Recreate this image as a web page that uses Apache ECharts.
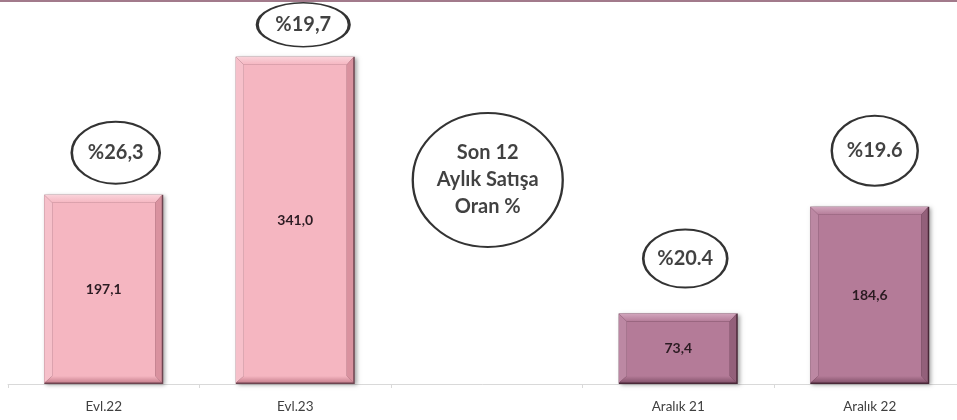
<!DOCTYPE html>
<html>
<head>
<meta charset="utf-8">
<script src="https://cdn.jsdelivr.net/npm/echarts@6/dist/echarts.min.js"></script>
<style>
html,body{margin:0;padding:0;background:#fff;}
#c{width:957px;height:420px;}
</style>
</head>
<body>
<div id="c"></div>
<script>
// ---- data ----
const categories = ['Evl.22', 'Evl.23', '', 'Aralık 21', 'Aralık 22'];
const values = [197.1, 341.0, null, 73.4, 184.6];
const valueLabels = ['197,1', '341,0', '', '73,4', '184,6'];
const ratioLabels = ['%26,3', '%19,7', '', '%20.4', '%19.6'];
const groups = ['pink', 'pink', '', 'mauve', 'mauve'];
const centerNote = 'Son 12\nAylık Satışa\nOran %';

// ---- styling ----
const palette = {
  pink:  {face:'#f5b6c1', top:'#fad3da', left:'#f6c0ca', right:'#d9929f', bottom:'#c98290', edge:'#6e4450'},
  mauve: {face:'#b47b98', top:'#d2a6bd', left:'#bc88a3', right:'#93607a', bottom:'#86546d', edge:'#4a2838'}
};
const ellipseStyle = [
  {size:[88,62], off:[12,-42]},
  {size:[92,44], off:[8,-32]},
  null,
  {size:[84,58], off:[7,-55]},
  {size:[86,70], off:[5,-56]}
];

const chart = echarts.init(document.getElementById('c'), null, {renderer:'canvas'});

function renderBar(params, api) {
  const idx = params.dataIndex;
  const v = api.value(1);
  if (v == null || isNaN(v)) return null;
  const c = palette[groups[idx]];
  const top = api.coord([api.value(0), v]);
  const base = api.coord([api.value(0), 0]);
  const bw = 119, bev = 8;
  const l = top[0] - bw / 2, r = l + bw, t = top[1], b = base[1];
  const children = [
    {type:'rect', shape:{x:l, y:t, width:bw, height:b - t},
     style:{fill:c.edge, shadowBlur:4, shadowOffsetX:2, shadowOffsetY:1, shadowColor:'rgba(0,0,0,0.35)'}},
    {type:'rect', shape:{x:l + bev, y:t + bev, width:bw - 2 * bev, height:Math.max(0, b - t - 2 * bev)},
     style:{fill:c.face}},
    {type:'polygon', shape:{points:[[l, t], [r - 1, t], [r - bev, t + bev], [l + bev, t + bev]]},
     style:{fill:new echarts.graphic.LinearGradient(0, 0, 0, 1, [{offset:0, color:c.top}, {offset:1, color:c.face}])}},
    {type:'polygon', shape:{points:[[l, t], [l + bev, t + bev], [l + bev, b - bev], [l, b - 1]]},
     style:{fill:c.left}},
    {type:'polygon', shape:{points:[[r - 1.5, t + 0.5], [r - 1.5, b - 1.5], [r - bev, b - bev], [r - bev, t + bev]]},
     style:{fill:c.right}},
    {type:'polygon', shape:{points:[[l + 0.5, b - 1.5], [r - 1.5, b - 1.5], [r - bev, b - bev], [l + bev, b - bev]]},
     style:{fill:new echarts.graphic.LinearGradient(0, 0, 0, 1, [{offset:0, color:c.face}, {offset:1, color:c.bottom}])}},
    {type:'text', style:{text:valueLabels[idx], x:(l + r) / 2, y:(t + b) / 2, align:'center', verticalAlign:'middle',
      font:'bold 14px Lato, "Open Sans", sans-serif', fill:'#2b1b22'}}
  ];
  return {type:'group', children:children};
}

const ellipseData = [];
categories.forEach((cat, i) => {
  if (ratioLabels[i] && values[i] != null) {
    const s = ellipseStyle[i];
    ellipseData.push({value:[i, values[i]], symbolSize:s.size, symbolOffset:s.off, label:{formatter:ratioLabels[i]}});
  }
});
// central note bubble, placed at the empty category slot
ellipseData.push({value:[2, 212.5], symbolSize:[150, 134], symbolOffset:[1, 0],
  label:{formatter:centerNote, fontSize:20, lineHeight:27}});

chart.setOption({
  animation:false,
  backgroundColor:'#ffffff',
  grid:{left:8, width:957.5, top:0, bottom:36, outerBoundsMode:'none', containLabel:false},
  xAxis:{
    type:'category', data:categories,
    axisLine:{lineStyle:{color:'#d9d9d9', width:1}},
    axisTick:{show:true, alignWithLabel:false, length:4, lineStyle:{color:'#d9d9d9'}},
    axisLabel:{color:'#404040', fontSize:13.5, fontFamily:'Lato, "Open Sans", sans-serif', margin:16},
    splitLine:{show:false}
  },
  yAxis:{type:'value', min:0, max:400, show:false, splitLine:{show:false}},
  graphic:[{type:'rect', left:0, top:0, shape:{width:957, height:2}, style:{fill:'#a27a8b'}}],
  series:[
    {type:'custom', renderItem:renderBar, data:categories.map((c, i) => [i, values[i]]), z:2},
    {type:'scatter', symbol:'circle', z:3,
     itemStyle:{color:'rgba(255,255,255,0)', borderColor:'#000000', borderWidth:2.2},
     label:{show:true, position:'inside', color:'#111111', fontSize:20, fontWeight:'bold',
            fontFamily:'Lato, "Open Sans", sans-serif'},
     labelLayout:{hideOverlap:false},
     emphasis:{disabled:true},
     data:ellipseData}
  ]
});
</script>
</body>
</html>
